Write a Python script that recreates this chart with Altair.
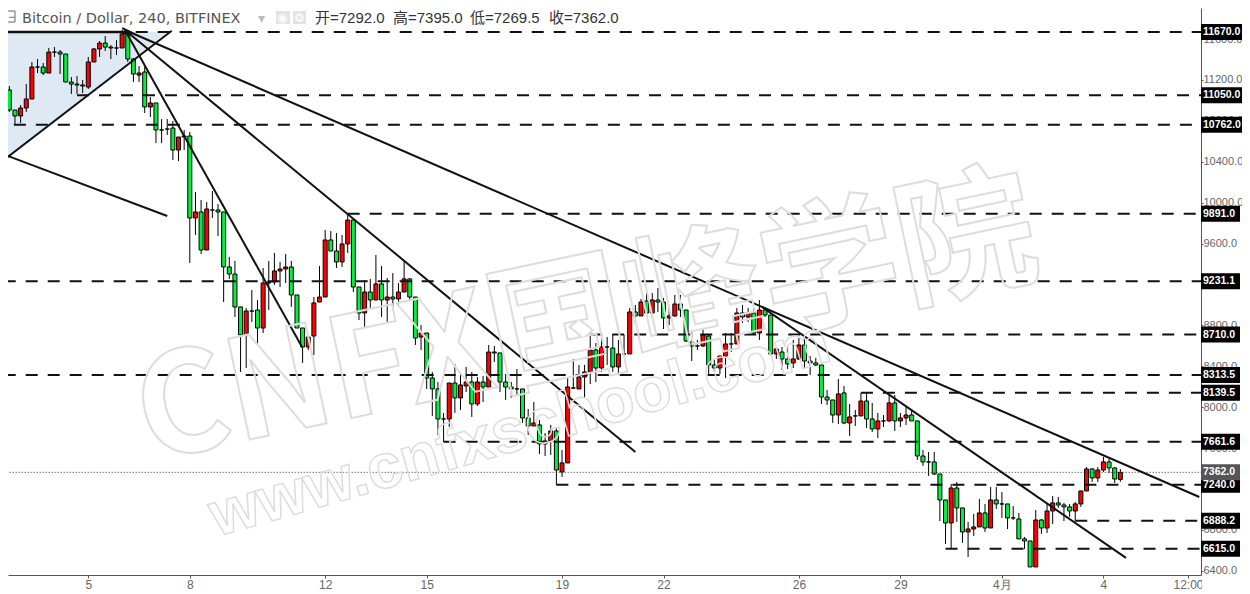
import altair as alt
import pandas as pd

opens = [11121,11102,10906,10848,10926,11014,11327,11327,11268,11473,
         11473,11454,11180,11160,11151,11131,11376,11503,11561,11522,
         11513,11513,11650,11405,11248,11278,10936,10975,10711,10720,
         10730,10515,10642,10652,9850,9909,9537,9928,9928,9909,
         9371,9302,8980,8706,8940,8950,8774,9214,9224,9332,
         9351,9371,9097,8774,8588,8696,9028,9077,9635,9527,
         9420,9596,9830,9175,8921,9126,9048,9205,9048,9077,
         9058,9126,9254,9077,8686,8725,8285,8178,7884,7884,
         8236,8090,8207,8246,8031,8246,8197,8539,8530,8246,
         8197,8178,8178,7894,7816,7826,7640,7669,7767,7366,
         7454,8187,8178,8295,8344,8559,8383,8588,8578,8393,
         8520,8520,8931,8892,9038,8921,9048,9028,8872,8892,
         9009,8950,8637,8598,8598,8696,8412,8383,8500,8618,
         8618,8921,8882,8921,8725,8950,8901,8520,8539,8471,
         8432,8471,8608,8451,8432,8412,8099,8070,7923,8139,
         7845,7914,7914,8060,7884,7786,7865,7865,8041,7865,
         7894,7923,7865,7522,7464,7464,7346,7092,6867,7209,
         7014,6779,6808,6828,6965,6818,7092,7053,7053,6916,
         6906,6711,6691,6437,6896,6818,6984,7063,7043,7024,
         6984,7053,7180,7395,7307,7385,7464,7405,7292]
closes = [11102,10906,10848,10926,11014,11327,11327,11268,11473,11473,
          11454,11180,11160,11151,11141,11376,11503,11561,11522,11513,
          11513,11650,11405,11258,11268,10936,10975,10711,10711,10720,
          10515,10642,10652,9850,9909,9537,9938,9928,9909,9371,
          9302,8980,8706,8940,8940,8774,9214,9224,9332,9351,
          9371,9097,8774,8588,8686,9019,9077,9635,9527,9420,
          9596,9830,9175,8921,9126,9048,9205,9048,9077,9058,
          9126,9254,9077,8676,8725,8285,8178,7884,7884,8236,
          8090,8217,8246,8031,8246,8197,8539,8530,8246,8197,
          8178,8178,7894,7816,7845,7640,7669,7767,7385,7454,
          8197,8187,8295,8344,8559,8383,8588,8588,8393,8520,
          8520,8931,8892,9028,8921,9048,9028,8872,8892,9009,
          8950,8647,8598,8598,8706,8412,8383,8500,8618,8618,
          8921,8882,8921,8725,8950,8901,8520,8569,8471,8422,
          8471,8608,8451,8432,8412,8099,8070,7923,8129,7845,
          7904,7914,8060,7884,7786,7865,7865,8041,7865,7894,
          7923,7865,7522,7464,7464,7346,7092,6867,7209,7014,
          6779,6808,6828,6965,6818,7092,7053,7053,6916,6916,
          6711,6691,6437,6896,6818,6984,7063,7043,7024,6984,
          7053,7180,7395,7307,7385,7464,7405,7297,7362]
highs = [11170,11141,10906,10955,11160,11376,11405,11366,11513,11522,
         11493,11454,11229,11239,11200,11425,11513,11581,11630,11542,
         11591,11689,11689,11415,11337,11327,11033,10975,10818,10818,
         10799,10642,10711,10691,10104,10026,10006,10114,9987,9909,
         9469,9430,8980,8970,9146,9048,9361,9430,9508,9420,
         9498,9430,9097,8774,8706,9077,9380,9733,9723,9703,
         9684,9899,9830,9175,9244,9254,9488,9380,9263,9312,
         9214,9430,9263,9077,8803,8725,8344,8246,7943,8236,
         8422,8334,8393,8344,8295,8305,8608,8598,8530,8324,
         8246,8373,8178,7982,8050,7874,7747,7826,7796,7581,
         8295,8471,8412,8412,8715,8627,8706,8686,8706,8657,
         8706,8970,8999,9058,9116,9116,9165,9068,8999,9097,
         9097,8950,8735,8657,8774,8706,8461,8500,8725,8725,
         8970,8999,8970,8970,9048,8980,8901,8588,8588,8588,
         8657,8676,8667,8500,8481,8412,8168,8070,8275,8207,
         8031,7972,8139,8139,8041,7943,7923,8119,8119,7943,
         8001,7972,7865,7581,7562,7562,7346,7092,7249,7268,
         7014,6877,6955,7102,7053,7219,7219,7170,7053,7033,
         6965,6730,6691,6994,6906,7063,7131,7121,7063,7053,
         7072,7180,7415,7405,7415,7513,7493,7415,7395]
lows = [10926,10887,10760,10779,10887,11014,11268,11248,11268,11425,
        11258,11180,11063,11063,11072,11112,11376,11425,11483,11405,
        11444,11513,11376,11180,11180,10877,10838,10583,10583,10662,
        10417,10407,10515,9410,9684,9498,9537,9850,9674,9028,
        9254,8882,8344,8383,8833,8608,8725,8950,9195,9175,
        9214,8980,8774,8432,8559,8510,9028,9077,9527,9361,
        9371,9508,9126,8852,8774,8960,9048,8882,8823,8950,
        8989,9126,9048,8608,8559,8178,7914,7728,7659,7806,
        7943,7972,8148,7904,8011,8050,8197,8442,8148,8070,
        8090,8119,7845,7728,7816,7542,7522,7532,7239,7317,
        7454,8178,8178,8090,8226,8246,8344,8412,8344,8315,
        8510,8520,8823,8892,8882,8872,8931,8764,8803,8882,
        8882,8637,8451,8559,8588,8324,8344,8324,8285,8540,
        8618,8823,8833,8715,8657,8882,8510,8471,8363,8373,
        8383,8461,8383,8315,8403,8031,8021,7845,7835,7835,
        7718,7816,7914,7796,7757,7698,7806,7855,7767,7806,
        7826,7865,7483,7425,7327,7337,6886,6662,6613,6877,
        6672,6534,6740,6828,6779,6818,7004,6916,6808,6896,
        6711,6613,6437,6437,6760,6769,6857,7014,6886,6926,
        6886,7024,7180,7268,7268,7366,7356,7258,7269.5]

level_prices = [11670, 11050, 10762, 9891, 9231.1, 8710, 8313.5, 8139.5, 7661.6, 7240, 6888.2, 6615]
level_starts = [0, 13, 1.8, 61, 0, 104, 0, 152, 78, 98, 190, 167]
level_labels = ["11670.0", "11050.0", "10762.0", "9891.0", "9231.1", "8710.0", "8313.5",
                "8139.5", "7661.6", "7240.0", "6888.2", "6615.0"]
last_price = [7362]
last_label = ["7362.0"]

trend_ids = ["A", "A", "B", "B", "C", "C", "D", "D", "E", "E", "F", "F", "H", "H", "H"]
trend_x = [21.5, 212, 21.5, 112, 21.5, 52.9, 134.4, 199, -0.66, 29.8, -0.66, 29, 21, 22.9, 21]
trend_y = [11689, 7121, 11689, 7561, 11689, 8588, 8982, 6525, 10388, 11682, 10486, 9870, 11708, 11659, 11659]
top_x = [-0.66, 21.5]
top_y = [11670, 11670]
shade_x = [-0.66, 29.1]
shade_top = [11670, 11670]
shade_bottom = [10388, 11670]

x_ticks = [15, 33, 57, 75, 99, 117, 141, 159, 177, 195, 210]
x_tick_labels = ["5", "8", "12", "15", "19", "22", "26", "29", "4月", "4", "12:00"]
y_ticks = list(range(6400, 11601, 400))
x_domain = [0.763, 212.3]
y_domain = [6358, 11904]
axis_end = 212.3

FONT = "Liberation Sans"
AX = "#555555"
df = pd.DataFrame({"i": list(range(len(opens))), "open": opens, "close": closes, "high": highs, "low": lows})
df["dir"] = ["up" if c >= o else "down" for o, c in zip(opens, closes)]

label_expr = "{" + ",".join(f"{k}:'{v}'" for k, v in zip(x_ticks, x_tick_labels)) + "}[datum.value]"
xs = alt.Scale(domain=x_domain, nice=False, zero=False, padding=0)
ys = alt.Scale(domain=y_domain, nice=False, zero=False, padding=0)
x_axis = alt.Axis(values=x_ticks, labelExpr=label_expr, title=None, grid=False,
                  domainColor=AX, tickColor=AX, labelColor="#666666", labelFont=FONT, labelFontSize=12,
                  tickSize=3, labelPadding=1, labelFlush=False, labelOverlap=False, domainWidth=1)
y_axis = alt.Axis(orient="right", values=y_ticks, format=".1f", title=None, grid=False,
                  domainColor=AX, tickColor=AX, labelColor="#666666", labelFont=FONT, labelFontSize=11,
                  tickSize=2, labelPadding=0, labelOverlap=False, domainWidth=1)
X = alt.X("i:Q", scale=xs, axis=x_axis)
Y = alt.Y("p:Q", scale=ys, axis=y_axis)

shade = alt.Chart(pd.DataFrame({"i": shade_x, "p": shade_top, "q": shade_bottom})).mark_area(
    color="#dfe9f4", clip=True).encode(x=X, y=Y, y2="q:Q")

wick = alt.Chart(df).mark_rule(color="#000000", strokeWidth=1, clip=True).encode(
    x=X, y=alt.Y("high:Q", scale=ys, axis=y_axis), y2="low:Q")
body = alt.Chart(df).mark_bar(size=4, stroke="#000000", strokeWidth=1, clip=True).encode(
    x=X, y=alt.Y("open:Q", scale=ys, axis=y_axis), y2="close:Q",
    color=alt.Color("dir:N", scale=alt.Scale(domain=["up", "down"], range=["#ff0000", "#00f040"]), legend=None))

levels = pd.DataFrame({"p": level_prices, "i": level_starts, "e": [axis_end] * len(level_prices), "label": level_labels})
dashes = alt.Chart(levels).mark_rule(color="#111111", strokeWidth=2, strokeDash=[12, 10], clip=True).encode(
    x=X, x2="e:Q", y=Y)
last_df = pd.DataFrame({"p": last_price, "i": [0], "e": [axis_end], "label": last_label})
dotted = alt.Chart(last_df).mark_rule(color="#333333", strokeWidth=1, strokeDash=[1, 2], clip=True).encode(
    x=X, x2="e:Q", y=Y)

trends = alt.Chart(pd.DataFrame({"i": trend_x, "p": trend_y, "id": trend_ids})).transform_window(
    o="row_number()").mark_line(color="#111111", strokeWidth=2, clip=True).encode(
    x=X, y=Y, detail="id:N", order=alt.Order("o:Q"))
top_line = alt.Chart(pd.DataFrame({"i": top_x, "p": top_y})).mark_line(color="#111111", strokeWidth=2.5, clip=True).encode(x=X, y=Y)

wm_big = alt.Chart(pd.DataFrame({"t": ["CNFX国峰学院"]})).mark_text(
    font="Noto Sans CJK SC", fontSize=139, fontWeight="bold", angle=348, fill="#ffffff", fillOpacity=0,
    stroke="#dddddd", strokeWidth=2, align="center", baseline="middle").encode(
    text="t:N", x=alt.value(579), y=alt.value(317))
wm_small = alt.Chart(pd.DataFrame({"t": ["www.cnfxschool.com"]})).mark_text(
    font="Liberation Sans", fontSize=63, fontWeight="bold", angle=344, fill="#ffffff", fillOpacity=0,
    stroke="#dddddd", strokeWidth=1.5, align="center", baseline="middle").encode(
    text="t:N", x=alt.value(512), y=alt.value(422))

mask = alt.Chart(pd.DataFrame({"a": [0]})).mark_rule(color="#ffffff", strokeWidth=14).encode(
    x=alt.value(1194), x2=alt.value(1234), y=alt.value(577))
rect_wide = alt.Chart(levels).transform_filter("length(datum.label)==7").mark_rule(color="#000000", strokeWidth=16).encode(
    x=alt.value(1193), x2=alt.value(1234), y=Y)
rect_narrow = alt.Chart(levels).transform_filter("length(datum.label)==6").mark_rule(color="#000000", strokeWidth=16).encode(
    x=alt.value(1193), x2=alt.value(1232), y=Y)
rect_last = alt.Chart(last_df).mark_rule(color="#555555", strokeWidth=16).encode(
    x=alt.value(1193), x2=alt.value(1232), y=Y)
label_text = alt.Chart(levels).mark_text(font=FONT, fontSize=10.5, fontWeight="bold", color="#ffffff",
    align="left", baseline="middle").encode(x=alt.value(1195), y=Y, text="label:N")
last_text = alt.Chart(last_df).mark_text(font=FONT, fontSize=10.5, fontWeight="bold", color="#ffffff",
    align="left", baseline="middle").encode(x=alt.value(1195), y=Y, text="label:N")


def txt(s, x, y, size=15, color="#555555", font=FONT):
    return alt.Chart(pd.DataFrame({"t": [s]})).mark_text(font=font, fontSize=size, color=color, align="left",
        baseline="alphabetic").encode(text="t:N", x=alt.value(x), y=alt.value(y))


def box(x0, x1, y0, y1, fill, stroke=None):
    kw = {"stroke": stroke, "strokeWidth": 1} if stroke else {}
    return alt.Chart(pd.DataFrame({"a": [0]})).mark_rect(fill=fill, **kw).encode(
        x=alt.value(x0), x2=alt.value(x1), y=alt.value(y0), y2=alt.value(y1))


CJK = "Liberation Sans, Noto Sans CJK SC"
header = [
    box(-4, 7, 3, 14, "#ffffff", "#666666"),
    txt("−", 0, 13, 12, "#666666"),
    txt("Bitcoin / Dollar, 240, BITFINEX", 14, 15, 14.5, "#555555", "DejaVu Sans"),
    txt("▾", 250, 15, 14, "#bbbbbb", "DejaVu Sans"),
    box(268, 282, 3, 16, "#e3e3e3"),
    box(285, 298, 3, 16, "#e3e3e3"),
    txt("◉", 269, 14, 12, "#ffffff", "DejaVu Sans"),
    txt("⚙", 286, 14, 12, "#ffffff", "DejaVu Sans"),
    txt("开=7292.0", 307, 15, 15, "#333333", CJK),
    txt("高=7395.0", 385, 15, 15, "#333333", CJK),
    txt("低=7269.5", 462, 15, 15, "#333333", CJK),
    txt("收=7362.0", 541, 15, 15, "#333333", CJK),
]

chart = alt.layer(
    shade, wick, body, dotted, dashes, trends, top_line, wm_big, wm_small,
    mask, rect_wide, rect_narrow, rect_last, label_text, last_text, *header
).properties(
    width=1234, height=586, background="#ffffff",
    autosize=alt.AutoSizeParams(type="none", contains="padding"),
    padding={"left": 0, "top": 0, "right": 41, "bottom": 19},
).configure_view(stroke=None)

chart.save("out.html", embed_options={"renderer": "svg", "actions": False})
